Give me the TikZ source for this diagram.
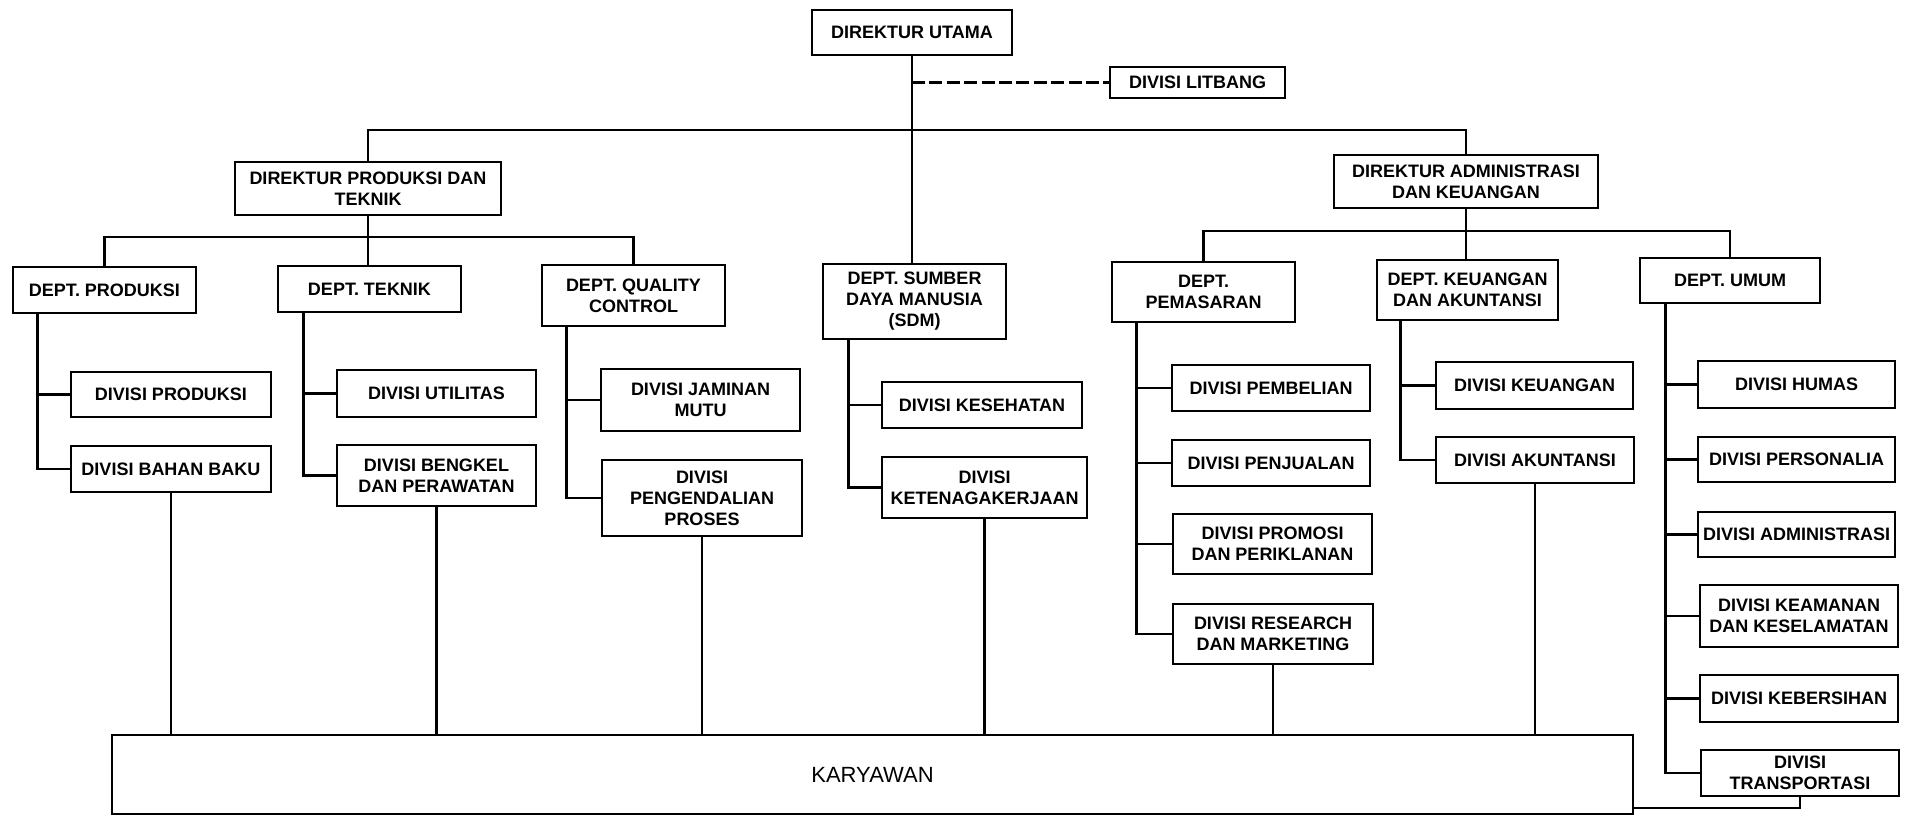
\documentclass[tikz,border=0pt]{standalone}
\usepackage{fontspec}
\setmainfont{Liberation Sans}
\usetikzlibrary{calc}

\begin{document}
\begin{tikzpicture}[
  x=0.5pt, y=-0.5pt,
  box/.style={draw, line width=1.4pt, align=center, inner sep=1pt,
              font=\bfseries\fontsize{9}{10.5}\selectfont},
  wh/.style 2 args={minimum width=#1*0.5pt, minimum height=#2*0.5pt},
  link/.style={line width=1.2pt},
  dotted link/.style={line width=1.2pt, dash pattern=on 6.5pt off 2.2pt}
]
\useasboundingbox (0,0) rectangle (1905,819);

% --- top management ---
\node[box, wh={200}{45}] (du)  at (912,32.5)   {DIREKTUR UTAMA};
\node[box, wh={175}{31}] (lit) at (1197.5,82.5) {DIVISI LITBANG};
\node[box, wh={266}{53}] (dp)  at (368,188.5)  {DIREKTUR PRODUKSI DAN\\TEKNIK};
\node[box, wh={264}{53}] (da)  at (1466,181.5) {DIREKTUR ADMINISTRASI\\DAN KEUANGAN};

% --- departments ---
\node[box, wh={183}{46}] (dprod) at (104.5,290)  {DEPT. PRODUKSI};
\node[box, wh={183}{46}] (dtek)  at (369.5,289)  {DEPT. TEKNIK};
\node[box, wh={183}{61}] (dqc)   at (633.5,295.5){DEPT. QUALITY\\CONTROL};
\node[box, wh={183}{75}] (dsdm)  at (914.5,301.5){DEPT. SUMBER\\DAYA MANUSIA\\(SDM)};
\node[box, wh={183}{60}] (dpem)  at (1203.5,292) {DEPT.\\PEMASARAN};
\node[box, wh={181}{60}] (dkeu)  at (1467.5,290) {DEPT. KEUANGAN\\DAN AKUNTANSI};
\node[box, wh={180}{45}] (dum)   at (1730,280.5) {DEPT. UMUM};

% --- divisions ---
\node[box, wh={200}{45}] (vprod)  at (171,394.5)  {DIVISI PRODUKSI};
\node[box, wh={200}{46}] (vbb)    at (171,469)    {DIVISI BAHAN BAKU};
\node[box, wh={199}{47}] (vutil)  at (436.5,393.5){DIVISI UTILITAS};
\node[box, wh={199}{61}] (vbeng)  at (436.5,475.5){DIVISI BENGKEL\\DAN PERAWATAN};
\node[box, wh={199}{62}] (vjm)    at (700.5,400)  {DIVISI JAMINAN\\MUTU};
\node[box, wh={200}{76}] (vpp)    at (702,498)    {DIVISI\\PENGENDALIAN\\PROSES};
\node[box, wh={200}{46}] (vkes)   at (982,405)    {DIVISI KESEHATAN};
\node[box, wh={205}{61}] (vket)   at (984.5,487.5){DIVISI\\KETENAGAKERJAAN};
\node[box, wh={198}{46}] (vbeli)  at (1271,388)   {DIVISI PEMBELIAN};
\node[box, wh={198}{46}] (vjual)  at (1271,463)   {DIVISI PENJUALAN};
\node[box, wh={199}{60}] (vpromo) at (1272.5,544) {DIVISI PROMOSI\\DAN PERIKLANAN};
\node[box, wh={200}{60}] (vres)   at (1273,634)   {DIVISI RESEARCH\\DAN MARKETING};
\node[box, wh={197}{47}] (vkeu)   at (1534.5,385.5){DIVISI KEUANGAN};
\node[box, wh={198}{46}] (vakun)  at (1535,460)   {DIVISI AKUNTANSI};
\node[box, wh={197}{47}] (vhum)   at (1796.5,384.5){DIVISI HUMAS};
\node[box, wh={197}{45}] (vpers)  at (1796.5,459.5){DIVISI PERSONALIA};
\node[box, wh={197}{45}] (vadm)   at (1796.5,534.5){DIVISI ADMINISTRASI};
\node[box, wh={198}{62}] (vkeam)  at (1799,616)   {DIVISI KEAMANAN\\DAN KESELAMATAN};
\node[box, wh={198}{47}] (vbers)  at (1799,698.5) {DIVISI KEBERSIHAN};
\node[box, wh={198}{46}] (vtrans) at (1800,773)   {DIVISI\\TRANSPORTASI};

% --- employees ---
\node[box, wh={1521}{79}, font=\fontsize{11}{13}\selectfont] (kar) at (872.5,774.5) {KARYAWAN};

% --- bus levels ---
\coordinate (topbus) at (0,130);
\coordinate (pbus)   at (0,237);
\coordinate (abus)   at (0,231);
\coordinate (trbus)  at (0,808);

% --- upper connectors ---
\draw[link] (du.south) -- (du.south |- dsdm.north);
\draw[dotted link] (du.south |- lit.west) -- (lit.west);
\draw[link] (dp.north) -- (dp.north |- topbus) -- (da.north |- topbus) -- (da.north);

\draw[link] (dprod.north) -- (dprod.north |- pbus) -- (dqc.north |- pbus) -- (dqc.north);
\draw[link] (dp.south) -- (dp.south |- dtek.north);

\draw[link] (dpem.north) -- (dpem.north |- abus) -- (dum.north |- abus) -- (dum.north);
\draw[link] (da.south) -- (da.south |- dkeu.north);

% --- department spines ---
\coordinate (sprod) at ($(dprod.south west)+(26,0)$);
\coordinate (stek)  at ($(dtek.south west)+(27,0)$);
\coordinate (sqc)   at ($(dqc.south west)+(26,0)$);
\coordinate (ssdm)  at ($(dsdm.south west)+(27,0)$);
\coordinate (spem)  at ($(dpem.south west)+(26,0)$);
\coordinate (skeu)  at ($(dkeu.south west)+(25,0)$);
\coordinate (sum)   at ($(dum.south west)+(27,0)$);

\draw[link] (sprod) |- (vbb.west);
\draw[link] (sprod |- vprod.west) -- (vprod.west);

\draw[link] (stek) |- (vbeng.west);
\draw[link] (stek |- vutil.west) -- (vutil.west);

\draw[link] (sqc) |- (vpp.west);
\draw[link] (sqc |- vjm.west) -- (vjm.west);

\draw[link] (ssdm) |- (vket.west);
\draw[link] (ssdm |- vkes.west) -- (vkes.west);

\draw[link] (spem) |- (vres.west);
\draw[link] (spem |- vbeli.west) -- (vbeli.west);
\draw[link] (spem |- vjual.west) -- (vjual.west);
\draw[link] (spem |- vpromo.west) -- (vpromo.west);

\draw[link] (skeu) |- (vakun.west);
\draw[link] (skeu |- vkeu.west) -- (vkeu.west);

\draw[link] (sum) |- (vtrans.west);
\draw[link] (sum |- vhum.west) -- (vhum.west);
\draw[link] (sum |- vpers.west) -- (vpers.west);
\draw[link] (sum |- vadm.west) -- (vadm.west);
\draw[link] (sum |- vkeam.west) -- (vkeam.west);
\draw[link] (sum |- vbers.west) -- (vbers.west);

% --- links down to the employees ---
\draw[link] (vbb.south)   -- (vbb.south |- kar.north);
\draw[link] (vbeng.south) -- (vbeng.south |- kar.north);
\draw[link] (vpp.south)   -- (vpp.south |- kar.north);
\draw[link] (vket.south)  -- (vket.south |- kar.north);
\draw[link] (vres.south)  -- (vres.south |- kar.north);
\draw[link] (vakun.south) -- (vakun.south |- kar.north);
\draw[link] (vtrans.south) -- (vtrans.south |- trbus) -- (kar.east |- trbus);

\end{tikzpicture}
\end{document}
